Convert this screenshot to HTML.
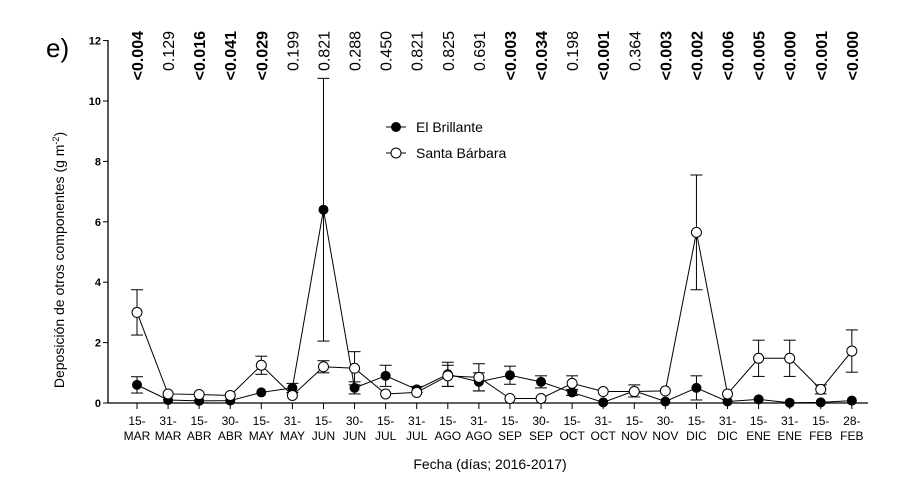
<!DOCTYPE html>
<html><head><meta charset="utf-8"><style>
html,body{margin:0;padding:0;background:#fff;}
svg{display:block;font-family:"Liberation Sans",sans-serif;}
</style></head><body>
<svg id="s" width="900" height="500" xmlns="http://www.w3.org/2000/svg"></svg>
<script>
const s=document.getElementById('s');
let h='';
const X0=108,Y0=403,k=30.2;
const xs=i=>137+i*31.08, ys=v=>Y0-v*k;
const dates=[["15-","MAR"],["31-","MAR"],["15-","ABR"],["30-","ABR"],["15-","MAY"],["31-","MAY"],["15-","JUN"],["30-","JUN"],["15-","JUL"],["31-","JUL"],["15-","AGO"],["31-","AGO"],["15-","SEP"],["30-","SEP"],["15-","OCT"],["31-","OCT"],["15-","NOV"],["30-","NOV"],["15-","DIC"],["31-","DIC"],["15-","ENE"],["31-","ENE"],["15-","FEB"],["28-","FEB"]];
const p=["<0.004","0.129","<0.016","<0.041","<0.029","0.199","0.821","0.288","0.450","0.821","0.825","0.691","<0.003","<0.034","0.198","<0.001","0.364","<0.003","<0.002","<0.006","<0.005","<0.000","<0.001","<0.000"];
const A=[[0.6,0.27],[0.1,0],[0.07,0],[0.08,0],[0.35,0],[0.5,0.15],[6.4,4.35],[0.5,0.2],[0.9,0.35],[0.45,0.1],[0.95,0.4],[0.7,0.3],[0.92,0.3],[0.7,0.2],[0.35,0.1],[0.02,0],[0.4,0.2],[0.05,0],[0.5,0.4],[0.05,0],[0.12,0],[0.01,0],[0.02,0],[0.08,0]];
const B=[[3.0,0.75],[0.3,0],[0.28,0],[0.25,0],[1.25,0.3],[0.25,0],[1.2,0.2],[1.15,0.55],[0.3,0],[0.35,0],[0.9,0.35],[0.85,0.45],[0.15,0],[0.15,0],[0.65,0.25],[0.38,0],[0.38,0],[0.4,0],[5.65,1.9],[0.3,0],[1.48,0.6],[1.48,0.6],[0.45,0.15],[1.72,0.7]];
h+=`<line x1="${X0}" y1="40" x2="${X0}" y2="${Y0}" stroke="#000" stroke-width="1.3"/>`;
h+=`<line x1="${X0}" y1="${Y0}" x2="868" y2="${Y0}" stroke="#000" stroke-width="1.3"/>`;
for(let v=0;v<=12;v+=2){const y=ys(v);h+=`<line x1="${X0-5}" y1="${y}" x2="${X0}" y2="${y}" stroke="#000"/><text x="${X0-7}" y="${y+4}" font-size="11" font-weight="bold" text-anchor="end">${v}</text>`;}
dates.forEach((d,i)=>{const x=xs(i);h+=`<line x1="${x}" y1="${Y0}" x2="${x}" y2="${Y0+6}" stroke="#000"/><text x="${x}" y="${Y0+22}" font-size="12" text-anchor="middle">${d[0]}</text><text x="${x}" y="${Y0+37}" font-size="12" text-anchor="middle">${d[1]}</text>`;
 const b=p[i][0]=='<';h+=`<text transform="translate(${x+6},31) rotate(-90)" font-size="16" text-anchor="end" ${b?'font-weight="bold"':''} fill="#000">${p[i]}</text>`;});
function ser(D){let pts=D.map((d,i)=>xs(i)+','+ys(d[0])).join(' ');h+=`<polyline points="${pts}" fill="none" stroke="#000" stroke-width="1"/>`;
D.forEach((d,i)=>{if(d[1]>0){const x=xs(i),a=ys(d[0]+d[1]),b=ys(Math.max(0,d[0]-d[1]));h+=`<line x1="${x}" y1="${a}" x2="${x}" y2="${b}" stroke="#000"/><line x1="${x-6}" y1="${a}" x2="${x+6}" y2="${a}" stroke="#000"/><line x1="${x-6}" y1="${b}" x2="${x+6}" y2="${b}" stroke="#000"/>`;}});}
ser(A);ser(B);
A.forEach((d,i)=>h+=`<circle cx="${xs(i)}" cy="${ys(d[0])}" r="5" fill="#000"/>`);
B.forEach((d,i)=>h+=`<circle cx="${xs(i)}" cy="${ys(d[0])}" r="5" fill="#fff" stroke="#000" stroke-width="1"/>`);
h+=`<line x1="386" y1="127" x2="406" y2="127" stroke="#000"/><circle cx="396" cy="127" r="5" fill="#000"/><text x="416" y="132" font-size="14">El Brillante</text>`;
h+=`<line x1="386" y1="153" x2="406" y2="153" stroke="#000"/><circle cx="396" cy="153" r="5" fill="#fff" stroke="#000"/><text x="416" y="158" font-size="14">Santa Bárbara</text>`;
h+=`<text x="46" y="57" font-size="26">e)</text>`;
h+=`<text transform="translate(64,260) rotate(-90)" font-size="14" text-anchor="middle">Deposición de otros componentes (g m<tspan dy="-5" font-size="9">-2</tspan><tspan dy="5">)</tspan></text>`;
h+=`<text x="490" y="469" font-size="14" text-anchor="middle">Fecha (días; 2016-2017)</text>`;
s.innerHTML=h;
</script>
</body></html>
